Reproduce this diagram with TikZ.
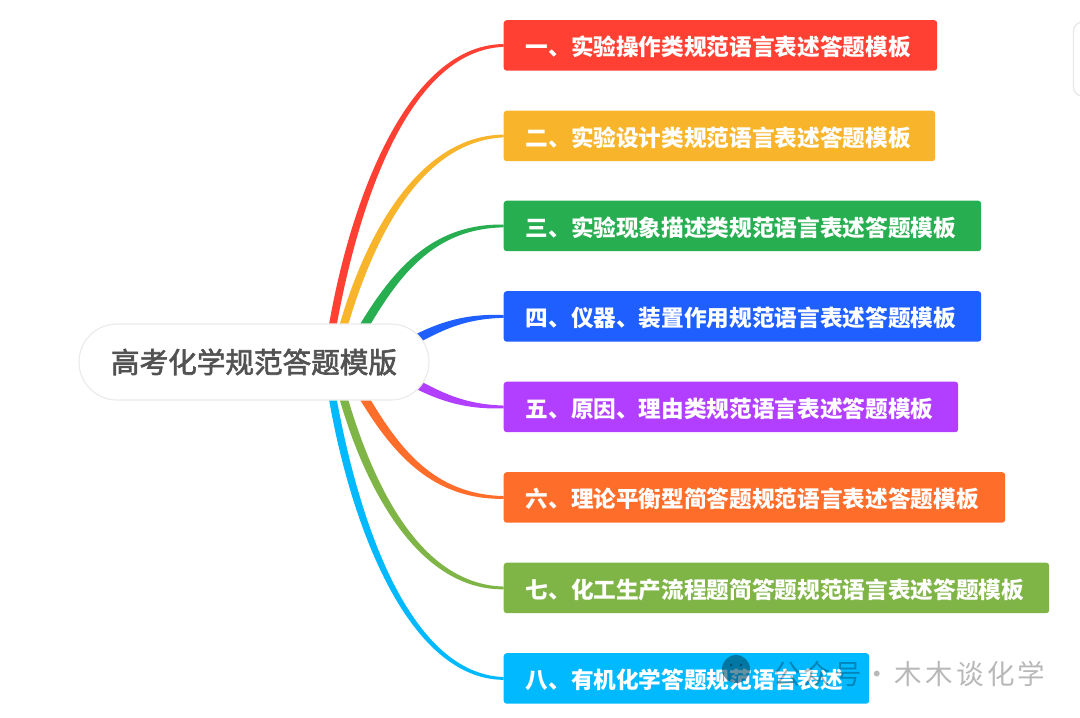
\documentclass[tikz,border=0pt]{standalone}
\usepackage{fontspec}
\setmainfont{Noto Sans CJK SC}
\newfontfamily\rootfont[FakeBold=2.2]{Noto Sans CJK SC}
\newfontfamily\markfont[LetterSpace=12]{Noto Sans CJK SC}
\definecolor{c1}{HTML}{FF4033}\definecolor{c2}{HTML}{F8B52B}\definecolor{c3}{HTML}{27AE50}\definecolor{c4}{HTML}{1F5FFF}
\definecolor{c5}{HTML}{B23FFF}\definecolor{c6}{HTML}{FF6D2A}\definecolor{c7}{HTML}{7FB446}\definecolor{c8}{HTML}{00B9FF}
% tapered branch: colour, start, control 1, control 2, end node, direction (1 rising, -1 falling)
\newcommand{\branch}[6]{%
 \fill[#1] ([xshift=-3.2pt,yshift={(#6)*3pt}]#2) .. controls ([xshift=-4pt,yshift={(#6)*4pt}]#3) and ([yshift={(#6)*3pt}]#4) .. ([yshift={(#6)*1.4pt}]#5.west) -- ([yshift={-(#6)*1.4pt}]#5.west) .. controls ([yshift={-(#6)*3pt}]#4) and ([xshift=4pt,yshift={-(#6)*4pt}]#3) .. ([xshift=3.2pt,yshift={-(#6)*3pt}]#2) -- cycle;}
\begin{document}
\begin{tikzpicture}[x=1pt,y=-1pt,
 leaf/.style={rounded corners=3pt,minimum height=50.5pt,inner sep=0pt,anchor=north west},
 leaftext/.style={anchor=west,inner sep=0pt,text=white,font=\fontsize{22.65}{24}\selectfont\bfseries}]
\useasboundingbox (0,0) rectangle (1080,718);
\node[leaf,fill=c1,minimum width=433.5pt] (b1) at (503.5,20) {};
\node[leaf,fill=c2,minimum width=431.5pt] (b2) at (503.5,110.5) {};
\node[leaf,fill=c3,minimum width=477.5pt] (b3) at (503.5,200.5) {};
\node[leaf,fill=c4,minimum width=477.5pt] (b4) at (503.5,291) {};
\node[leaf,fill=c5,minimum width=454.5pt] (b5) at (503.5,381.5) {};
\node[leaf,fill=c6,minimum width=501.5pt] (b6) at (503.5,472) {};
\node[leaf,fill=c7,minimum width=545.5pt] (b7) at (503.5,562.5) {};
\node[leaf,fill=c8,minimum width=365.5pt] (b8) at (503.5,653) {};
\node[leaftext] (t1) at (525.5,47) {一、实验操作类规范语言表述答题模板};
\node[leaftext] (t2) at (525.5,137.5) {二、实验设计类规范语言表述答题模板};
\node[leaftext] (t3) at (525.5,227.5) {三、实验现象描述类规范语言表述答题模板};
\node[leaftext] (t4) at (525.5,318) {四、仪器、装置作用规范语言表述答题模板};
\node[leaftext] (t5) at (525.5,408.5) {五、原因、理由类规范语言表述答题模板};
\node[leaftext] (t6) at (525.5,499) {六、理论平衡型简答题规范语言表述答题模板};
\node[leaftext] (t7) at (525.5,589.5) {七、化工生产流程题简答题规范语言表述答题模板};
\node[leaftext] (t8) at (525.5,680) {八、有机化学答题规范语言表述};
\coordinate (s1) at (327,362); \coordinate (s2) at (334,362); \coordinate (s3) at (343,362);
\coordinate (s4) at (395,350); \coordinate (s5) at (395,373);
\branch{c1}{s1}{345,230}{400,48}{b1}{1}
\branch{c2}{s2}{358,260}{410,139}{b2}{1}
\branch{c3}{s3}{380,300}{415,226}{b3}{1}
\branch{c4}{s4}{430,332}{455,316}{b4}{1}
\branch{c5}{s5}{430,391}{455,407}{b5}{-1}
\branch{c6}{s3}{380,424}{415,497}{b6}{-1}
\branch{c7}{s2}{358,464}{410,587}{b7}{-1}
\branch{c8}{s1}{345,494}{400,676}{b8}{-1}
\node[draw=black!8,line width=1.2pt,fill=white,rounded corners=38pt,minimum width=350pt,minimum height=76pt,inner sep=0pt,font=\fontsize{28.6}{30}\selectfont\rootfont,text=black!68] (root) at (254,362) {\raisebox{-1pt}{高考化学规范答题模版}};
\draw[black!9,line width=1.4pt,rounded corners=9pt] (1085,22) -- (1073.5,22) -- (1073.5,96) -- (1085,96);
\fill[black!60!c8,opacity=.6] (736,669) circle (14);
\fill[black,opacity=.35] (731,665) circle (1.3) (741,665) circle (1.3);
\node[anchor=west,inner sep=0pt,text=black,opacity=.28,font=\fontsize{27.5}{30}\selectfont\markfont] (wm) at (773,674) {公众号 \hspace{-8pt}·\hspace{-6pt} 木木谈化学};
\end{tikzpicture}
\end{document}
